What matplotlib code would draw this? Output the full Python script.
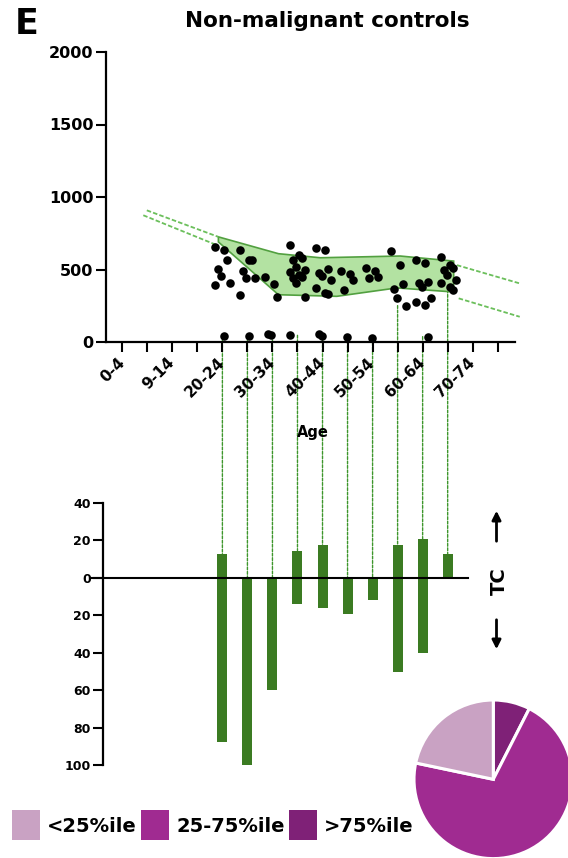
import numpy as np
import matplotlib
matplotlib.use("Agg")
import matplotlib.pyplot as plt
from matplotlib.patches import Rectangle, ConnectionPatch, FancyArrowPatch

# ---------------- data ----------------
ages = ['0-4', '5-9', '10-14', '15-19', '20-24', '25-29', '30-34', '35-39',
        '40-44', '45-49', '50-54', '55-59', '60-64', '65-69', '70-74', '75-79']
age_tick_labels = ['0-4', '', '9-14', '', '20-24', '', '30-34', '', '40-44', '',
                   '50-54', '', '60-64', '', '70-74', '']
bar_ages = ['20-24', '25-29', '30-34', '35-39', '40-44', '45-49', '50-54',
            '55-59', '60-64', '65-69']

pts_20_24 = [655, 637, 565, 505, 458, 407, 394, 42]
pts_25_29 = [637, 565, 565, 488, 442, 442, 326, 42]
pts_30_34 = [450, 400, 312, 55, 45]
pts_35_39 = [668, 600, 580, 565, 515, 500, 485, 465, 450, 440, 405, 310, 46]
pts_40_44 = [648, 632, 505, 477, 458, 431, 373, 338, 333, 56, 42]
pts_45_49 = [488, 472, 426, 361, 37]
pts_50_54 = [512, 488, 449, 442, 25]
pts_55_59 = [630, 530, 400, 367, 302, 251]
pts_60_64 = [564, 548, 415, 404, 381, 301, 273, 255, 37]
pts_65_69 = [583, 530, 507, 495, 461, 427, 404, 381, 358]
points = [pts_20_24, pts_25_29, pts_30_34, pts_35_39, pts_40_44,
          pts_45_49, pts_50_54, pts_55_59, pts_60_64, pts_65_69]

# reference band (age index, value)
band_upper_x = [3.84, 6.24, 7.91, 11.1, 13.24]
band_upper_y = [725, 609, 581, 593, 558]
band_lower_x = [3.84, 6.24, 8.57, 10.97, 13.24]
band_lower_y = [690, 326, 315, 373, 345]
# extrapolated (dashed) band edges
extrap_left_upper_x, extrap_left_upper_y = [0.98, 3.84], [908, 725]
extrap_left_lower_x, extrap_left_lower_y = [0.84, 3.78], [874, 668]
extrap_right_upper_x, extrap_right_upper_y = [13.37, 15.88], [530, 404]
extrap_right_lower_x, extrap_right_lower_y = [13.44, 15.88], [301, 174]

tc_up = [12.5, 0, 0, 14.5, 17.5, 0, 0, 17.5, 20.5, 12.5]
tc_down = [87.5, 100, 60, 14, 16, 19.5, 12, 50, 40, 0]

pie_labels = ['<25%ile', '25-75%ile', '>75%ile']
pie_values = [21.7, 70.8, 7.5]
pie_colors = ['#c9a2c3', '#a02b91', '#7f2177']

# ---------------- styling ----------------
W, H = 568, 858
def fx(x):
    return x / W
def fy(y):
    return 1 - y / H

plt.rcParams['font.family'] = ['DejaVu Sans']
plt.rcParams['font.weight'] = 'bold'

BAR_GREEN = '#3b7b22'
LINK_GREEN = '#3e962c'
BAND_FACE = '#b3e2a2'
BAND_EDGE = '#52a040'
EXTRAP = '#6bbf5b'

fig = plt.figure(figsize=(W / 100, H / 100), dpi=100)

# ---------------- top panel ----------------
ax_top = fig.add_axes([fx(106), fy(342), (515 - 106) / W, (342 - 52) / H])
ax_top.patch.set_visible(False)
ax_top.set_xlim(-0.65, 15.69)
ax_top.set_ylim(0, 2000)
for s in ['top', 'right']:
    ax_top.spines[s].set_visible(False)
for s in ['left', 'bottom']:
    ax_top.spines[s].set_linewidth(1.6)
ax_top.set_xticks(range(len(ages)))
ax_top.set_xticklabels(age_tick_labels, rotation=45, ha='right', va='center',
                       rotation_mode='anchor', fontsize=11, fontweight='bold')
ax_top.set_yticks([0, 500, 1000, 1500, 2000])
ax_top.set_yticklabels(['0', '500', '1000', '1500', '2000'], fontsize=11.5,
                       fontweight='bold')
ax_top.tick_params(axis='both', direction='out', length=7, width=1.5)
ax_top.tick_params(axis='x', pad=6)
ax_top.tick_params(axis='y', pad=2)

# band
ax_top.fill(np.r_[band_upper_x, band_lower_x[::-1]],
            np.r_[band_upper_y, band_lower_y[::-1]],
            facecolor=BAND_FACE, edgecolor=BAND_EDGE, linewidth=1.2, zorder=1)
for xs, ys in [(extrap_left_upper_x, extrap_left_upper_y),
               (extrap_left_lower_x, extrap_left_lower_y),
               (extrap_right_upper_x, extrap_right_upper_y),
               (extrap_right_lower_x, extrap_right_lower_y)]:
    ax_top.plot(xs, ys, color=EXTRAP, lw=1.3, linestyle=(0, (2.5, 1.2)),
                clip_on=False, zorder=1)

# scatter
for age, vals in zip(bar_ages, points):
    idx = ages.index(age)
    offs = [((k % 3) - 1) * 0.24 + (0.08 if k % 2 else -0.04) for k in range(len(vals))]
    ax_top.scatter(idx + np.array(offs), vals, s=38, color='black', zorder=3,
                   clip_on=False, linewidths=0)

fig.text(fx(313), fy(433), 'Age', ha='center', va='center', fontsize=10.5,
         fontweight='bold')

# ---------------- bottom panel ----------------
ax_bot = fig.add_axes([fx(106), fy(765.3), (515 - 106) / W, (765.3 - 502.7) / H])
ax_bot.patch.set_visible(False)
ax_bot.set_xlim(-0.65, 15.69)
ax_bot.set_ylim(-100, 40)
for s in ['top', 'right', 'bottom']:
    ax_bot.spines[s].set_visible(False)
ax_bot.spines['left'].set_linewidth(1.6)
ax_bot.spines['left'].set_position(('outward', 2))
ax_bot.set_xticks([])
yt = [40, 20, 0, -20, -40, -60, -80, -100]
ax_bot.set_yticks(yt)
ax_bot.set_yticklabels([str(abs(v)) for v in yt], fontsize=9, fontweight='bold')
ax_bot.tick_params(axis='y', direction='out', length=7, width=1.5, pad=2)

bar_idx = [ages.index(a) for a in bar_ages]
ax_bot.bar(bar_idx, tc_up, width=0.4, color=BAR_GREEN, zorder=2)
ax_bot.bar(bar_idx, [-d for d in tc_down], width=0.4, color=BAR_GREEN, zorder=2)
ax_bot.axhline(0, xmin=-0.04, xmax=0.885, color='black', lw=1.5, clip_on=False,
               zorder=3)

# connectors
for i, (age, vals) in enumerate(zip(bar_ages, points)):
    idx = ages.index(age)
    con = ConnectionPatch(xyA=(idx, min(vals)), coordsA=ax_top.transData,
                          xyB=(idx, tc_up[i]), coordsB=ax_bot.transData,
                          color=LINK_GREEN, lw=1.0, linestyle=(0, (2, 1.2)))
    con.set_zorder(-1)
    fig.add_artist(con)

# TC label + arrows
fig.text(fx(499), fy(581), 'TC', rotation=90, ha='center', va='center',
         fontsize=14, fontweight='bold')
fig.add_artist(FancyArrowPatch((fx(496.5), fy(544)), (fx(496.5), fy(508)),
                               transform=fig.transFigure, arrowstyle='-|>',
                               mutation_scale=13, lw=2, color='black'))
fig.add_artist(FancyArrowPatch((fx(496.5), fy(617)), (fx(496.5), fy(652)),
                               transform=fig.transFigure, arrowstyle='-|>',
                               mutation_scale=13, lw=2, color='black'))

# ---------------- titles ----------------
fig.text(fx(327), fy(21), 'Non-malignant controls', ha='center', va='center',
         fontsize=15.5, fontweight='bold')
fig.text(fx(15), fy(7), 'E', ha='left', va='top', fontsize=25, fontweight='bold')

# ---------------- pie ----------------
r = 79.3
ax_pie = fig.add_axes([fx(493.3 - r), fy(779.3 + r), 2 * r / W, 2 * r / H])
ax_pie.pie([pie_values[2], pie_values[1], pie_values[0]],
           colors=[pie_colors[2], pie_colors[1], pie_colors[0]],
           startangle=90, counterclock=False, radius=1,
           wedgeprops=dict(edgecolor='white', linewidth=2.2))
ax_pie.set_xlim(-1, 1)
ax_pie.set_ylim(-1, 1)

# ---------------- legend ----------------
sq_left = [12, 141, 289]
txt_left = [47, 176, 324]
for sl, tl, lab, col in zip(sq_left, txt_left, pie_labels, pie_colors):
    fig.add_artist(Rectangle((fx(sl), fy(840)), 28 / W, 30 / H,
                             transform=fig.transFigure, facecolor=col,
                             edgecolor='none'))
    fig.text(fx(tl), fy(826), lab, ha='left', va='center', fontsize=14,
             fontweight='bold')

fig.savefig('out.png', dpi=100)
